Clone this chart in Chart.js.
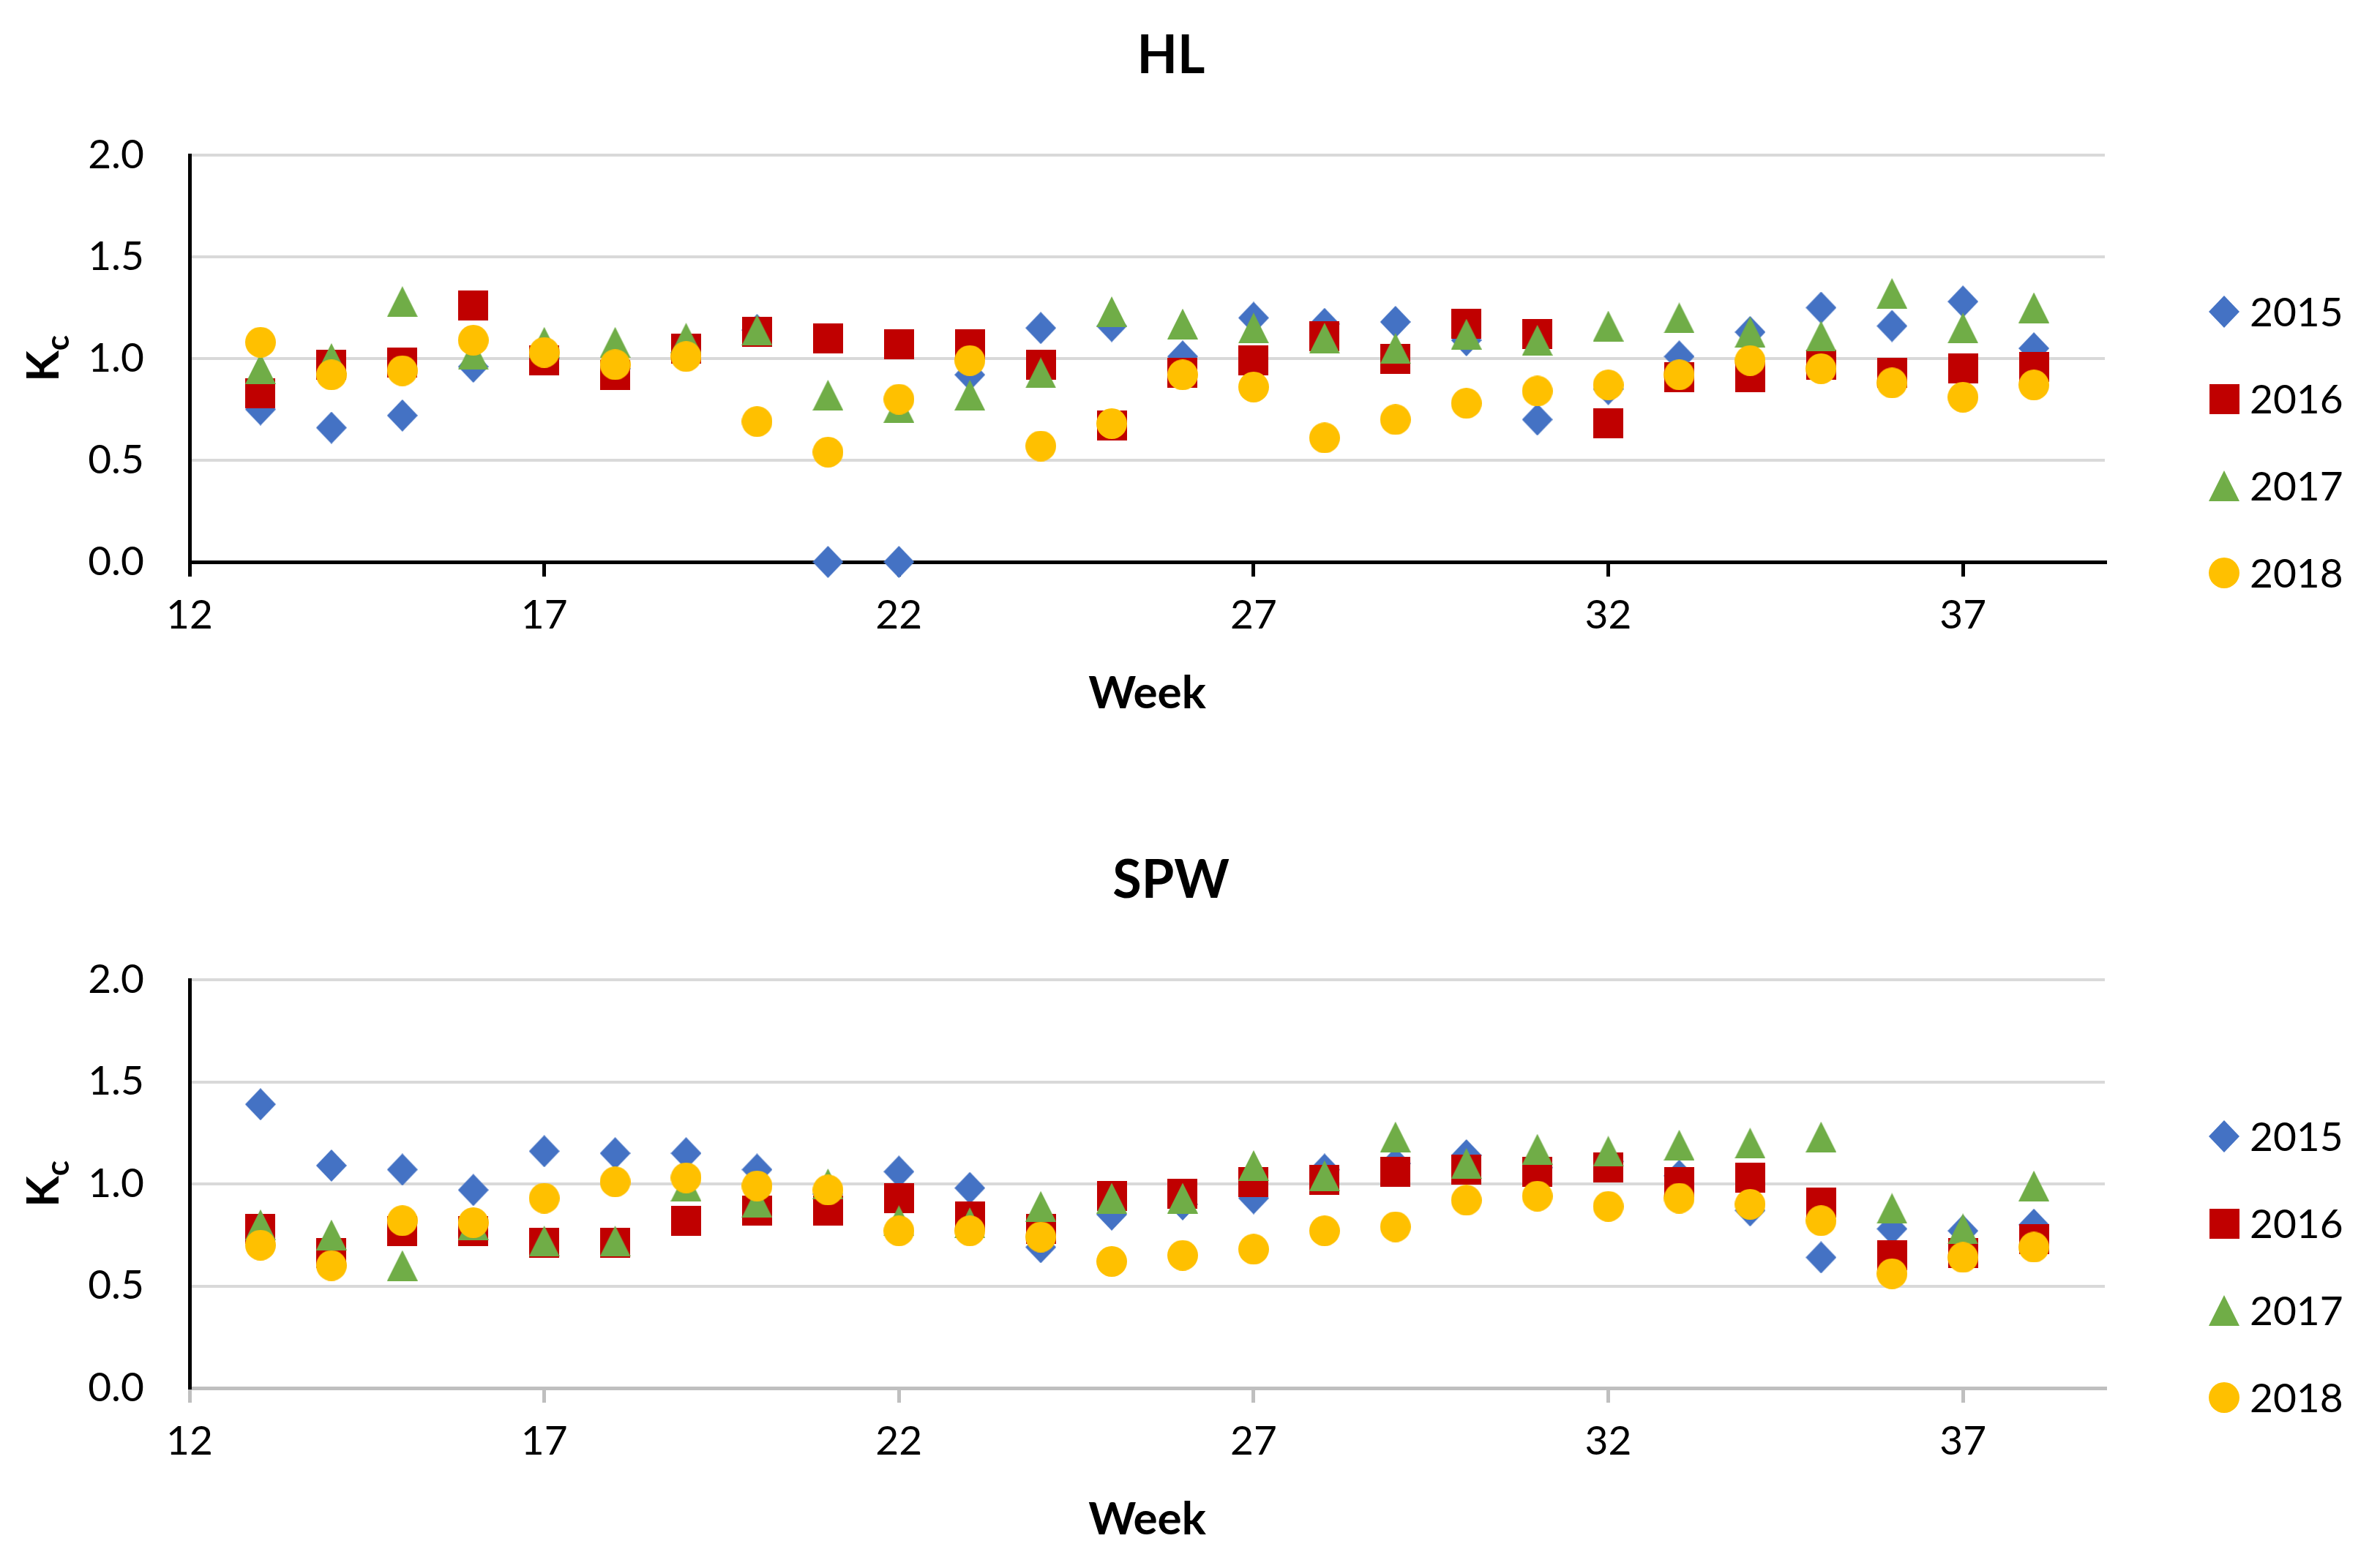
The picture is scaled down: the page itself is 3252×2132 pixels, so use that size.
<!DOCTYPE html>
<html>
<head>
<meta charset="utf-8">
<script src="https://cdn.jsdelivr.net/npm/chart.js@4.4.1/dist/chart.umd.min.js"></script>
<style>
html,body{margin:0;padding:0;background:#fff;}
#wrap{position:relative;width:3252px;height:2132px;background:#fff;}
canvas{position:absolute;left:0;}
</style>
</head>
<body>
<div id="wrap">
<canvas id="hl" width="3252" height="1066" style="top:0px"></canvas>
<canvas id="spw" width="3252" height="1066" style="top:1066px"></canvas>
</div>
<script>
// ---- data ----
const weeks = [13,14,15,16,17,18,19,20,21,22,23,24,25,26,27,28,29,30,31,32,33,34,35,36,37,38];
const seriesLabels = ['2015','2016','2017','2018'];
const xTickValues = [12,17,22,27,32,37];
const yTickValues = [0,0.5,1.0,1.5,2.0];

const hl2015 = [0.75,0.66,0.72,0.96,1.00,0.95,1.03,1.14,0.00,0.00,0.92,1.15,1.16,1.01,1.20,1.17,1.18,1.09,0.70,0.85,1.01,1.13,1.25,1.16,1.28,1.05];
const hl2016 = [0.83,0.97,0.98,1.26,0.99,0.92,1.05,1.13,1.10,1.07,1.07,0.97,0.67,0.93,0.99,1.11,1.00,1.17,1.12,0.68,0.91,0.91,0.97,0.93,0.95,0.96];
const hl2017 = [0.95,1.00,1.28,1.02,1.08,1.08,1.10,1.14,0.82,0.76,0.82,0.93,1.23,1.17,1.15,1.10,1.05,1.12,1.09,1.16,1.20,1.13,1.11,1.32,1.15,1.25];
const hl2018 = [1.08,0.92,0.94,1.09,1.03,0.97,1.01,0.69,0.54,0.80,0.99,0.57,0.68,0.92,0.86,0.61,0.70,0.78,0.84,0.87,0.92,0.99,0.95,0.88,0.81,0.87];

const spw2015 = [1.39,1.09,1.07,0.97,1.16,1.15,1.15,1.07,0.95,1.06,0.98,0.69,0.85,0.90,0.93,1.07,1.10,1.14,1.08,1.11,1.04,0.87,0.64,0.78,0.77,0.80];
const spw2016 = [0.78,0.66,0.77,0.77,0.71,0.71,0.82,0.87,0.87,0.93,0.84,0.78,0.94,0.95,1.01,1.02,1.06,1.07,1.06,1.08,1.01,1.03,0.91,0.65,0.66,0.73];
const spw2017 = [0.80,0.75,0.60,0.80,0.72,0.72,0.99,0.91,1.00,0.82,0.81,0.89,0.93,0.93,1.09,1.04,1.23,1.10,1.17,1.16,1.19,1.20,1.23,0.88,0.78,0.99];
const spw2018 = [0.70,0.60,0.82,0.81,0.93,1.01,1.03,0.99,0.97,0.77,0.77,0.74,0.62,0.65,0.68,0.77,0.79,0.92,0.94,0.89,0.93,0.90,0.82,0.56,0.64,0.69];

// ---- styling ----
const colors = ['#4472C4','#C00000','#70AD47','#FFC000'];
const shapes = ['diamond','square','triangle','circle'];
const FONT = 'Lato';

function marker(shape, color) {
  const dims = {diamond:[42,44], square:[41,41], triangle:[42,42], circle:[42,42]}[shape];
  const c = document.createElement('canvas');
  c.width = dims[0]; c.height = dims[1];
  const g = c.getContext('2d');
  const w = c.width, h = c.height;
  g.fillStyle = color;
  g.beginPath();
  if (shape === 'diamond') { g.moveTo(w/2,0); g.lineTo(w,h/2); g.lineTo(w/2,h); g.lineTo(0,h/2); }
  else if (shape === 'square') { g.rect(0,0,w,h); }
  else if (shape === 'triangle') { g.moveTo(w/2,0); g.lineTo(w,h); g.lineTo(0,h); }
  else { g.arc(w/2,h/2,w/2,0,Math.PI*2); }
  g.closePath();
  g.fill();
  return c;
}

const textPlugin = {
  id: 'sketchText',
  afterDraw(chart, args, opts) {
    const ctx = chart.ctx;
    const a = chart.chartArea;
    ctx.save();
    ctx.fillStyle = '#000';
    ctx.textBaseline = 'alphabetic';
    // chart title
    ctx.textAlign = 'center';
    ctx.font = 'bold 72px ' + FONT;
    ctx.fillText(opts.title, 1600, a.top - 112);
    // x axis title
    ctx.font = 'bold 62px ' + FONT;
    ctx.fillText('Week', (a.left + a.right) / 2, a.bottom + 200);
    // y axis title K with subscript c
    ctx.save();
    ctx.translate(80, (a.top + a.bottom) / 2);
    ctx.rotate(-Math.PI / 2);
    ctx.textAlign = 'left';
    ctx.font = 'bold 62px ' + FONT;
    const wK = ctx.measureText('K').width;
    ctx.font = 'bold 44px ' + FONT;
    const wc = ctx.measureText('c').width;
    const start = -(wK + wc) / 2;
    ctx.font = 'bold 62px ' + FONT;
    ctx.fillText('K', start, 0);
    ctx.font = 'bold 44px ' + FONT;
    ctx.fillText('c', start + wK, 14);
    ctx.restore();
    // legend
    ctx.textAlign = 'left';
    ctx.font = '55px ' + FONT;
    chart.data.datasets.forEach((ds, i) => {
      const y = a.top + 214 + i * 119;
      const img = ds.pointStyle;
      ctx.drawImage(img, 3039 - img.width / 2, y - img.height / 2);
      ctx.fillText(ds.label, 3074, y + 20);
    });
    ctx.restore();
  }
};

function makeChart(id, title, seriesValues, cfg) {
  const datasets = seriesValues.map((vals, i) => ({
    label: seriesLabels[i],
    data: weeks.map((w, j) => ({x: w, y: vals[j]})),
    pointStyle: marker(shapes[i], colors[i]),
    pointRadius: 21,
    pointHoverRadius: 21,
    backgroundColor: colors[i],
    borderColor: colors[i],
    showLine: false,
    clip: false,
    order: 4 - i
  }));
  return new Chart(document.getElementById(id), {
    type: 'scatter',
    data: { datasets },
    options: {
      responsive: false,
      animation: false,
      devicePixelRatio: 1,
      events: [],
      layout: { padding: { left: 0, right: 376, top: cfg.top, bottom: cfg.bottom } },
      plugins: {
        legend: { display: false },
        tooltip: { enabled: false },
        title: { display: false },
        sketchText: { title: title }
      },
      scales: {
        x: {
          type: 'linear', position: 'bottom', min: 12, max: 39,
          afterBuildTicks: s => { s.ticks = xTickValues.map(v => ({value: v})); },
          afterFit: s => { s.height = 150; },
          ticks: { font: {family: FONT, size: 55}, color: '#000', padding: 20, maxRotation: 0, autoSkip: false, callback: v => String(v) },
          grid: { drawOnChartArea: false, drawTicks: true, tickLength: 20, color: cfg.xAxisColor, lineWidth: 5 },
          border: { display: true, color: cfg.xAxisColor, width: 5 }
        },
        y: {
          type: 'linear', min: 0, max: 2,
          afterBuildTicks: s => { s.ticks = yTickValues.map(v => ({value: v})); },
          afterFit: s => { s.width = 259; },
          ticks: { font: {family: FONT, size: 55}, color: '#000', padding: 62, callback: v => Number(v).toFixed(1) },
          grid: { color: '#d9d9d9', lineWidth: 4, drawTicks: false },
          border: { display: true, color: '#000', width: 5 }
        }
      }
    },
    plugins: [textPlugin]
  });
}

makeChart('hl', 'HL', [hl2015, hl2016, hl2017, hl2018], {top: 212, bottom: 148, xAxisColor: '#000'});
makeChart('spw', 'SPW', [spw2015, spw2016, spw2017, spw2018], {top: 273, bottom: 85, xAxisColor: '#bfbfbf'});
</script>
</body>
</html>
